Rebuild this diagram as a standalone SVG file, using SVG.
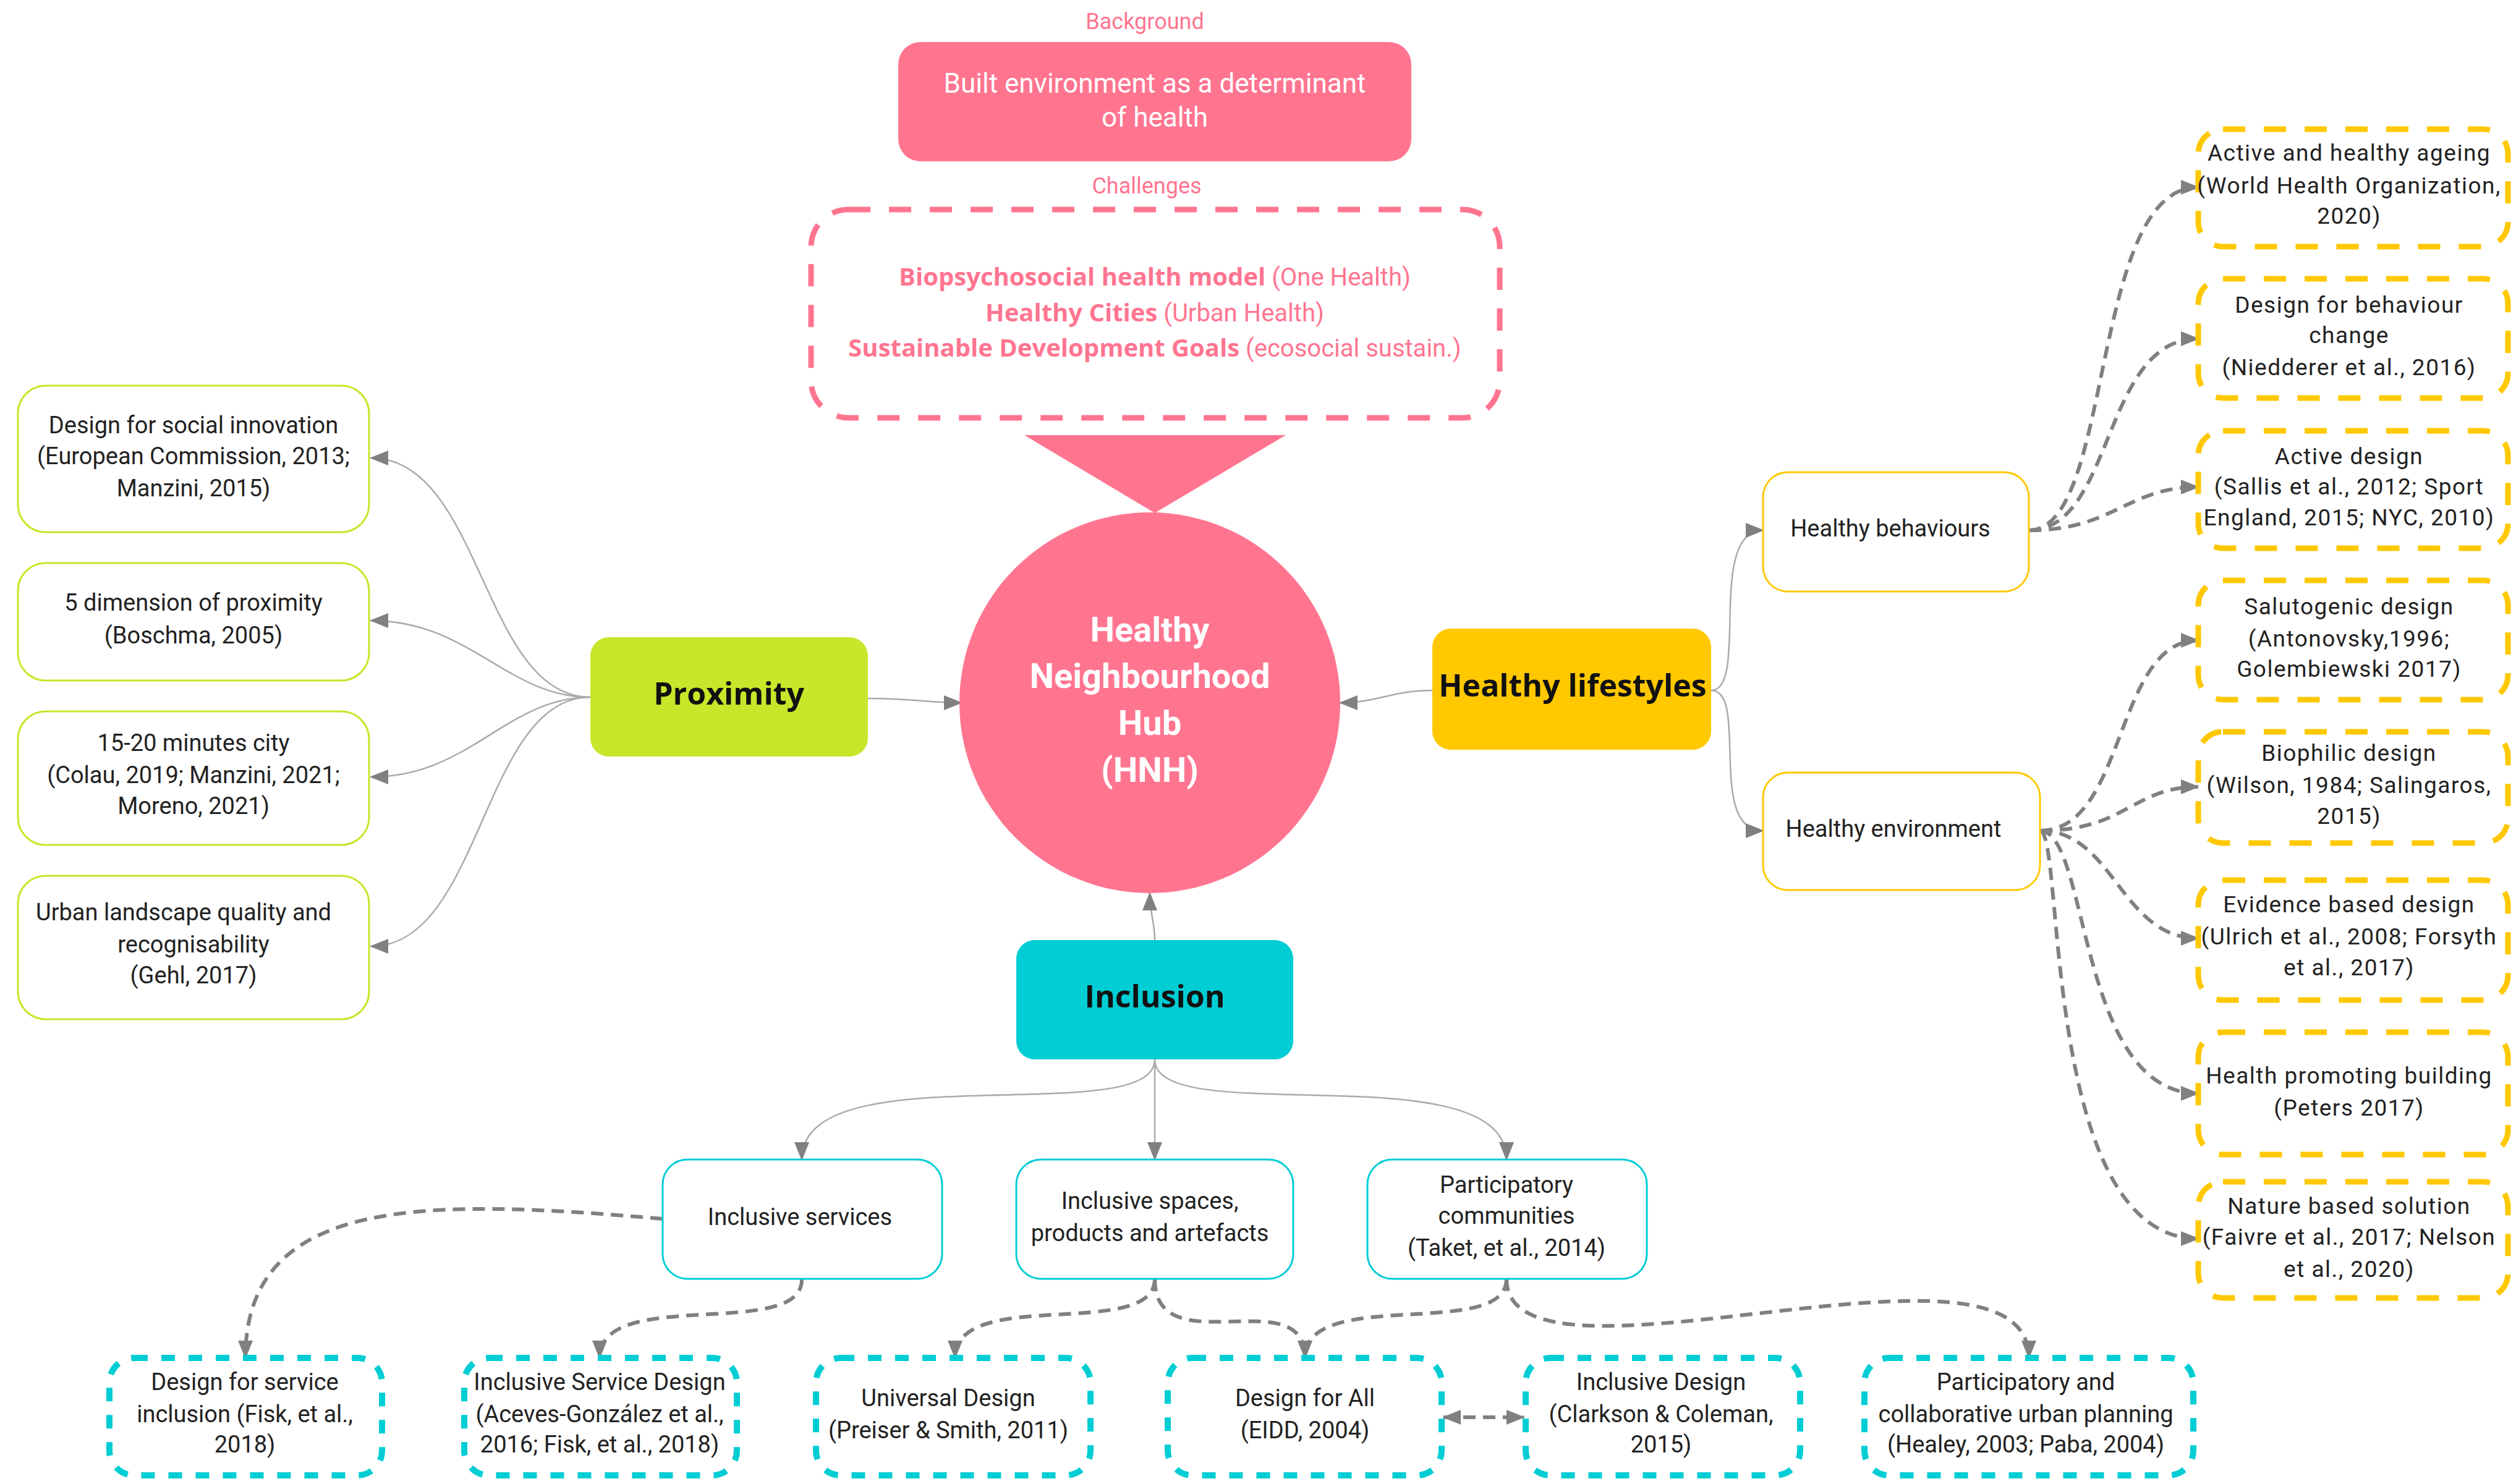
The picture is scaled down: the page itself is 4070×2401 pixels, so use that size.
<svg xmlns="http://www.w3.org/2000/svg" width="4070" height="2401" viewBox="0 0 4070 2401">
<style>
text{font-family:Roboto,"Liberation Sans",sans-serif;text-anchor:middle;dominant-baseline:middle}
.t{font-size:38px;fill:#222}
.tr{font-size:37px;fill:#222;letter-spacing:1.5px}
.b{font-family:"Open Sans","Liberation Sans",sans-serif;font-weight:bold;font-size:50px;fill:#111}
.pk{fill:#ff7590;font-size:36px}
.solid{fill:none;stroke:#aaa;stroke-width:2.5}
.dash{fill:none;stroke:#808080;stroke-width:6;stroke-dasharray:20 12}
.gbox{fill:#fff;stroke:#c8e62a;stroke-width:3}
.ybox{fill:#fff;stroke:#ffc800;stroke-width:3}
.cbox{fill:#fff;stroke:#00cdd4;stroke-width:3}
.ydash{fill:#fff;stroke:#ffc800;stroke-width:9;stroke-dasharray:36 30}
.cdash{fill:#fff;stroke:#00cdd4;stroke-width:10;stroke-dasharray:22 22}
</style>
<defs>
<marker id="a" markerWidth="30" markerHeight="24" refX="28" refY="12" orient="auto" markerUnits="userSpaceOnUse"><path d="M0,0 L30,12 L0,24 Z" fill="#808080"/></marker>
<marker id="s" markerWidth="30" markerHeight="24" refX="2" refY="12" orient="auto" markerUnits="userSpaceOnUse"><path d="M30,0 L0,12 L30,24 Z" fill="#808080"/></marker>
</defs>
<g id="connectors">
<path class="solid" marker-end="url(#a)" d="M955,1128 C780,1128 780,741 600,741"/>
<path class="solid" marker-end="url(#a)" d="M955,1128 C820,1128 760,1004 600,1004"/>
<path class="solid" marker-end="url(#a)" d="M955,1128 C820,1128 760,1257 600,1257"/>
<path class="solid" marker-end="url(#a)" d="M955,1128 C780,1128 780,1531 600,1531"/>
<path class="solid" marker-end="url(#a)" d="M1404,1130 C1480,1130 1500,1137 1555,1137"/>
<path class="solid" marker-end="url(#a)" d="M2317,1117 C2250,1117 2230,1137 2168,1137"/>
<path class="solid" marker-end="url(#a)" d="M2768,1117 C2830,1117 2760,858 2852,858"/>
<path class="solid" marker-end="url(#a)" d="M2768,1117 C2830,1117 2760,1344 2852,1344"/>
<path class="solid" marker-end="url(#a)" d="M1868,1521 C1868,1490 1860,1480 1860,1445"/>
<path class="solid" marker-end="url(#a)" d="M1868,1714 C1868,1830 1297,1700 1297,1876"/>
<path class="solid" marker-end="url(#a)" d="M1868,1714 L1868,1876"/>
<path class="solid" marker-end="url(#a)" d="M1868,1714 C1868,1830 2437,1700 2437,1876"/>
<path class="dash" marker-end="url(#a)" d="M3282,858 C3420,858 3380,303 3556,303"/>
<path class="dash" marker-end="url(#a)" d="M3282,858 C3420,858 3400,548 3556,548"/>
<path class="dash" marker-end="url(#a)" d="M3282,858 C3420,858 3440,788 3556,788"/>
<path class="dash" marker-end="url(#a)" d="M3300,1344 C3440,1344 3420,1036 3556,1036"/>
<path class="dash" marker-end="url(#a)" d="M3300,1344 C3440,1344 3450,1273 3556,1273"/>
<path class="dash" marker-end="url(#a)" d="M3300,1344 C3420,1344 3430,1518 3556,1518"/>
<path class="dash" marker-end="url(#a)" d="M3300,1344 C3380,1344 3360,1769 3556,1769"/>
<path class="dash" marker-end="url(#a)" d="M3300,1344 C3340,1344 3300,2004 3556,2004"/>
<path class="dash" marker-end="url(#a)" d="M1072,1972 C700,1940 397,1930 397,2197"/>
<path class="dash" marker-end="url(#a)" d="M1297,2069 C1300,2170 970,2080 970,2197"/>
<path class="dash" marker-end="url(#a)" d="M1868,2069 C1868,2170 1545,2080 1545,2197"/>
<path class="dash" marker-end="url(#a)" d="M1868,2069 C1868,2210 2111,2070 2111,2197"/>
<path class="dash" marker-end="url(#a)" d="M2437,2069 C2437,2170 2111,2080 2111,2197"/>
<path class="dash" marker-end="url(#a)" d="M2437,2069 C2437,2280 3282,1960 3282,2197"/>
<path class="dash" marker-start="url(#s)" marker-end="url(#a)" d="M2335,2293 L2465,2293"/>
</g>
<g id="background">
<text class="pk" x="1852" y="37">Background</text>
<rect x="1453" y="68" width="830" height="193" rx="36" fill="#ff7590"/>
<text x="1868" y="138" font-size="44" fill="#fff">Built environment as a determinant</text>
<text x="1868" y="193" font-size="44" fill="#fff">of health</text>
</g>
<g id="challenges">
<text class="pk" x="1855" y="303">Challenges</text>
<rect x="1312" y="339" width="1114" height="337" rx="60" fill="#fff" stroke="#ff7590" stroke-width="9" stroke-dasharray="36 30"/>
<text x="1868" y="451" font-size="40" fill="#ff7590"><tspan font-family="Open Sans, Liberation Sans, sans-serif" font-weight="bold">Biopsychosocial health model</tspan> (One Health)</text>
<text x="1868" y="509" font-size="40" fill="#ff7590"><tspan font-family="Open Sans, Liberation Sans, sans-serif" font-weight="bold">Healthy Cities</tspan> (Urban Health)</text>
<text x="1868" y="566" font-size="40" fill="#ff7590"><tspan font-family="Open Sans, Liberation Sans, sans-serif" font-weight="bold">Sustainable Development Goals</tspan> (ecosocial sustain.)</text>
<polygon points="1657,704 2080,704 1868,830" fill="#ff7590"/>
</g>
<g id="hnh">
<circle cx="1860" cy="1137" r="308" fill="#ff7590"/>
<g font-family="Open Sans, Liberation Sans, sans-serif" font-weight="bold" font-size="56" fill="#fff">
<text x="1860" y="1023">Healthy</text><text x="1860" y="1098">Neighbourhood</text><text x="1860" y="1174">Hub</text><text x="1860" y="1250">(HNH)</text></g>
</g>
<g id="proximity">
<rect x="955" y="1031" width="449" height="193" rx="30" fill="#c8e62a"/>
<text class="b" x="1179" y="1127">Proximity</text>
</g>
<g id="p1"><rect class="gbox" x="29" y="624" width="568" height="237" rx="45"/>
<text class="t" x="313" y="691">Design for social innovation</text><text class="t" x="313" y="741">(European Commission, 2013;</text><text class="t" x="313" y="793">Manzini, 2015)</text></g>
<g id="p2"><rect class="gbox" x="29" y="911" width="568" height="190" rx="45"/>
<text class="t" x="313" y="978">5 dimension of proximity</text><text class="t" x="313" y="1031">(Boschma, 2005)</text></g>
<g id="p3"><rect class="gbox" x="29" y="1151" width="568" height="216" rx="45"/>
<text class="t" x="313" y="1205">15-20 minutes city</text><text class="t" x="313" y="1257">(Colau, 2019; Manzini, 2021;</text><text class="t" x="313" y="1307">Moreno, 2021)</text></g>
<g id="p4"><rect class="gbox" x="29" y="1417" width="568" height="232" rx="45"/>
<text class="t" x="297" y="1479">Urban landscape quality and</text><text class="t" x="313" y="1531">recognisability</text><text class="t" x="313" y="1581">(Gehl, 2017)</text></g>
<g id="lifestyles">
<rect x="2317" y="1017" width="451" height="196" rx="30" fill="#ffc800"/>
<text class="b" x="2544" y="1114">Healthy lifestyles</text>
</g>
<g id="behaviours"><rect class="ybox" x="2852" y="764" width="430" height="193" rx="40"/><text class="t" x="3058" y="858">Healthy behaviours</text></g>
<g id="environment"><rect class="ybox" x="2852" y="1250" width="448" height="190" rx="40"/><text class="t" x="3063" y="1344">Healthy environment</text></g>
<g id="r1"><rect class="ydash" x="3556" y="209" width="501" height="190" rx="40"/>
<text class="tr" x="3800" y="250">Active and healthy ageing</text><text class="tr" x="3800" y="303">(World Health Organization,</text><text class="tr" x="3800" y="352">2020)</text></g>
<g id="r2"><rect class="ydash" x="3556" y="451" width="501" height="193" rx="40"/>
<text class="tr" x="3800" y="496">Design for behaviour</text><text class="tr" x="3800" y="545">change</text><text class="tr" x="3800" y="597">(Niedderer et al., 2016)</text></g>
<g id="r3"><rect class="ydash" x="3556" y="697" width="501" height="190" rx="40"/>
<text class="tr" x="3800" y="741">Active design</text><text class="tr" x="3800" y="790">(Sallis et al., 2012; Sport</text><text class="tr" x="3800" y="840">England, 2015; NYC, 2010)</text></g>
<g id="r4"><rect class="ydash" x="3556" y="939" width="501" height="193" rx="40"/>
<text class="tr" x="3800" y="984">Salutogenic design</text><text class="tr" x="3800" y="1036">(Antonovsky,1996;</text><text class="tr" x="3800" y="1085">Golembiewski 2017)</text></g>
<g id="r5"><rect class="ydash" x="3556" y="1184" width="501" height="180" rx="40"/>
<text class="tr" x="3800" y="1221">Biophilic design</text><text class="tr" x="3800" y="1273">(Wilson, 1984; Salingaros,</text><text class="tr" x="3800" y="1323">2015)</text></g>
<g id="r6"><rect class="ydash" x="3556" y="1424" width="501" height="194" rx="40"/>
<text class="tr" x="3800" y="1466">Evidence based design</text><text class="tr" x="3800" y="1518">(Ulrich et al., 2008; Forsyth</text><text class="tr" x="3800" y="1568">et al., 2017)</text></g>
<g id="r7"><rect class="ydash" x="3556" y="1670" width="501" height="198" rx="40"/>
<text class="tr" x="3800" y="1743">Health promoting building</text><text class="tr" x="3800" y="1795">(Peters 2017)</text></g>
<g id="r8"><rect class="ydash" x="3556" y="1912" width="501" height="188" rx="40"/>
<text class="tr" x="3800" y="1954">Nature based solution</text><text class="tr" x="3800" y="2004">(Faivre et al., 2017; Nelson</text><text class="tr" x="3800" y="2056">et al., 2020)</text></g>
<g id="inclusion">
<rect x="1644" y="1521" width="448" height="193" rx="30" fill="#00cdd4"/>
<text class="b" x="1868" y="1617">Inclusion</text>
</g>
<g id="i1"><rect class="cbox" x="1072" y="1876" width="452" height="193" rx="40"/><text class="t" x="1294" y="1972">Inclusive services</text></g>
<g id="i2"><rect class="cbox" x="1644" y="1876" width="448" height="193" rx="40"/><text class="t" x="1860" y="1946">Inclusive spaces,</text><text class="t" x="1860" y="1998">products and artefacts</text></g>
<g id="i3"><rect class="cbox" x="2212" y="1876" width="452" height="193" rx="40"/><text class="t" x="2437" y="1920">Participatory</text><text class="t" x="2437" y="1970">communities</text><text class="t" x="2437" y="2022">(Taket, et al., 2014)</text></g>
<g id="b1"><rect class="cdash" x="177" y="2197" width="441" height="190" rx="40"/>
<text class="t" x="396" y="2239">Design for service</text><text class="t" x="396" y="2291">inclusion (Fisk, et al.,</text><text class="t" x="396" y="2340">2018)</text></g>
<g id="b2"><rect class="cdash" x="751" y="2197" width="441" height="190" rx="40"/>
<text class="t" x="970" y="2239">Inclusive Service Design</text><text class="t" x="970" y="2291">(Aceves-González et al.,</text><text class="t" x="970" y="2340">2016; Fisk, et al., 2018)</text></g>
<g id="b3"><rect class="cdash" x="1320" y="2197" width="444" height="190" rx="40"/>
<text class="t" x="1534" y="2265">Universal Design</text><text class="t" x="1534" y="2317">(Preiser &amp; Smith, 2011)</text></g>
<g id="b4"><rect class="cdash" x="1889" y="2197" width="443" height="190" rx="40"/>
<text class="t" x="2111" y="2265">Design for All</text><text class="t" x="2111" y="2317">(EIDD, 2004)</text></g>
<g id="b5"><rect class="cdash" x="2468" y="2197" width="444" height="190" rx="40"/>
<text class="t" x="2687" y="2239">Inclusive Design</text><text class="t" x="2687" y="2291">(Clarkson &amp; Coleman,</text><text class="t" x="2687" y="2340">2015)</text></g>
<g id="b6"><rect class="cdash" x="3016" y="2197" width="532" height="190" rx="40"/>
<text class="t" x="3277" y="2239">Participatory and</text><text class="t" x="3277" y="2291">collaborative urban planning</text><text class="t" x="3277" y="2340">(Healey, 2003; Paba, 2004)</text></g>
</svg>
